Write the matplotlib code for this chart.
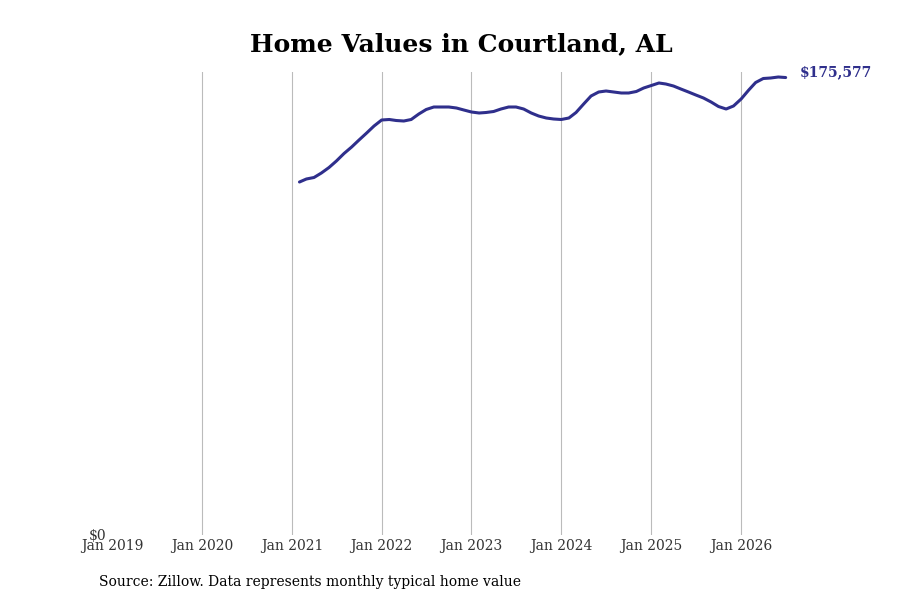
import pandas as pd
import matplotlib
matplotlib.use('Agg')
import matplotlib.pyplot as plt
import matplotlib.dates as mdates

# Monthly typical home value, Feb 2021 - Jul 2026
start_month = '2021-02-01'
values = [
    135481, 136633, 137209, 138936, 141047, 143541, 146420, 148914, 151601, 154288, 156974,
    159277, 159469, 159085, 158893, 159469, 161580, 163307, 164266, 164266, 164266, 163883, 163115,
    162347, 161964, 162156, 162539, 163499, 164266, 164266, 163499, 161964, 160812, 160045, 159661,
    159469, 160045, 162156, 165418, 168488, 170023, 170407, 170023, 169640, 169640, 170215, 171559,
    172518, 173478, 173094, 172326, 171175, 170023, 168872, 167721, 166185, 164458, 163499, 164650,
    167337, 170791, 173670, 175205, 175397, 175780, 175577,
]
tick_years = [2019, 2020, 2021, 2022, 2023, 2024, 2025, 2026]
title = 'Home Values in Courtland, AL'
source = 'Source: Zillow. Data represents monthly typical home value'
line_color = '#2f2f8c'

dates = pd.date_range(start_month, periods=len(values), freq='MS')

plt.rcParams['font.family'] = 'DejaVu Serif'
fig = plt.figure(figsize=(9, 6), dpi=100)
ax = fig.add_axes([112 / 900, 65 / 600, 699 / 900, 463 / 600])

ax.plot(dates, values, color=line_color, linewidth=2.2, solid_capstyle='round')

ax.set_xlim(pd.Timestamp('2019-01-01'), pd.Timestamp('2026-10-12'))
ax.set_ylim(0, 177700)

ax.set_xticks([pd.Timestamp(f'{y}-01-01') for y in tick_years])
ax.xaxis.set_major_formatter(mdates.DateFormatter('Jan %Y'))
ax.set_yticks([0])
ax.set_yticklabels(['$0'])
ax.tick_params(axis='both', length=0, labelsize=10, labelcolor='#333333')
ax.tick_params(axis='x', pad=3)
ax.tick_params(axis='y', pad=4)

ax.grid(axis='x', color='#bbbbbb', linewidth=0.8)
ax.get_xgridlines()[0].set_visible(False)
for s in ax.spines.values():
    s.set_visible(False)

last = values[-1]
ax.annotate(f'${last:,}', xy=(dates[-1], last), xytext=(10, 4), textcoords='offset points',
            color=line_color, fontsize=10, fontweight='bold', va='center', ha='left')

fig.text(461 / 900, 1 - 44 / 600, title, ha='center', va='center', fontsize=18, fontweight='bold')
fig.text(99 / 900, 1 - 582 / 600, source, ha='left', va='center', fontsize=10)

fig.savefig('out.png', dpi=100)
